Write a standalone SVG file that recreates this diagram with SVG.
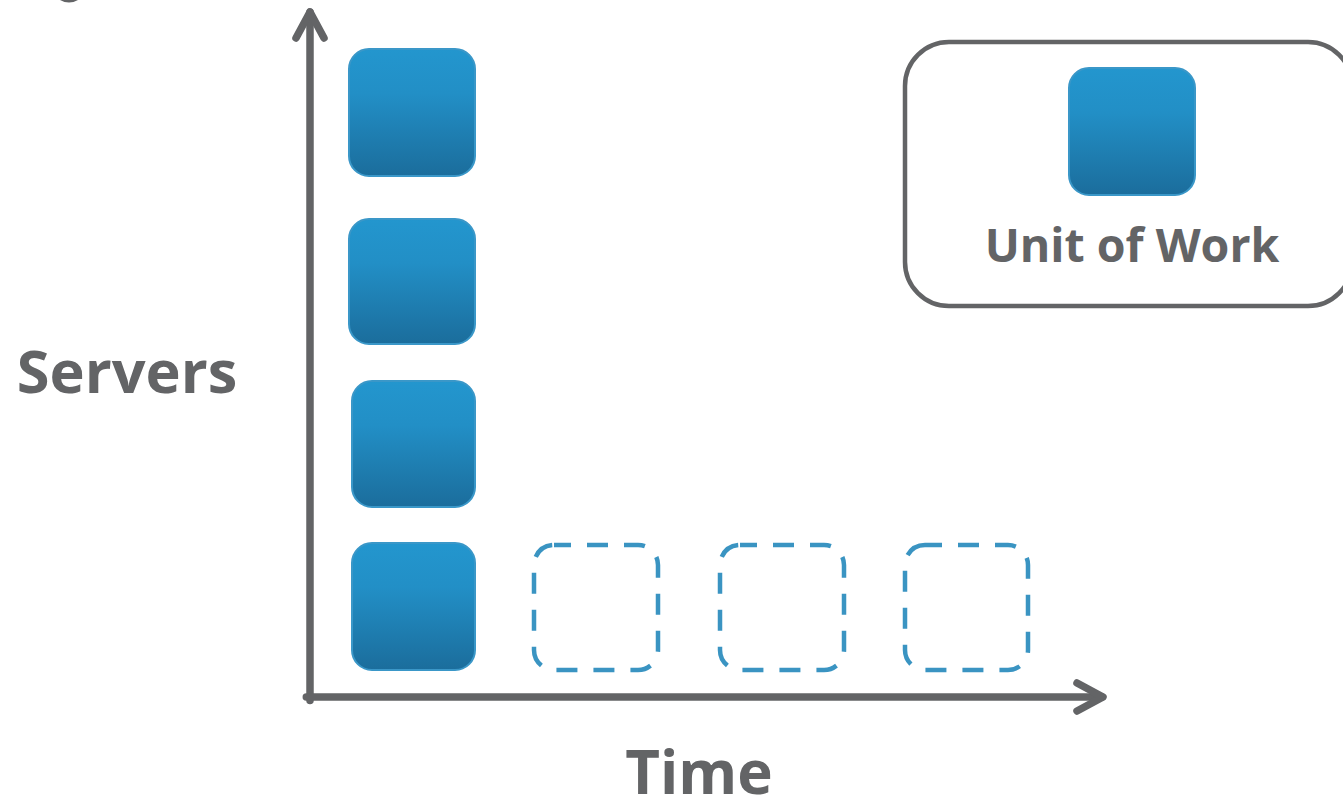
<svg xmlns="http://www.w3.org/2000/svg" width="1343" height="803" viewBox="0 0 1343 803">
  <defs>
    <linearGradient id="unitFill" x1="0" y1="0" x2="0" y2="1">
      <stop offset="0" stop-color="#2396ce"/>
      <stop offset="0.35" stop-color="#228fc6"/>
      <stop offset="1" stop-color="#1b6d9c"/>
    </linearGradient>
    <style>
      .unit { fill: url(#unitFill); stroke: #3a97c8; stroke-width: 2; }
      .slot { fill: none; stroke: #3a94c2; stroke-width: 4.5; stroke-dasharray: 21 16; }
      .axis { fill: none; stroke: #636466; stroke-width: 7.5; stroke-linecap: round; stroke-linejoin: round; }
      .label { font-family: "Open Sans", "Noto Sans", "Liberation Sans", sans-serif; font-weight: bold; fill: #636466; }
    </style>
  </defs>

  <rect width="1343" height="803" fill="#ffffff"/>

  <!-- clipped fragment at the top edge -->
  <path d="M60 0 Q69 5 78 0 Z" fill="#636466"/>

  <!-- axes -->
  <g id="connectors">
    <path class="axis" d="M310 700.5 L310 12" stroke-linecap="butt"/>
    <path class="axis" d="M296 38 L310 12 L324 38"/>
    <path class="axis" d="M306.3 697 L1102 697" stroke-linecap="butt"/>
    <path class="axis" d="M1077 683 L1103 697 L1077 711"/>
  </g>

  <!-- stacked units on the server axis -->
  <g id="unit-1"><rect class="unit" x="349" y="49" width="126" height="127" rx="20"/></g>
  <g id="unit-2"><rect class="unit" x="349" y="219" width="126" height="125" rx="20"/></g>
  <g id="unit-3"><rect class="unit" x="352" y="381" width="123" height="126" rx="20"/></g>
  <g id="unit-4"><rect class="unit" x="352" y="543" width="123" height="127" rx="20"/></g>

  <!-- empty slots along the time axis -->
  <g id="slot-1"><rect class="slot" x="534" y="545" width="124" height="125" rx="20" stroke-dashoffset="4"/></g>
  <g id="slot-2"><rect class="slot" x="720" y="545" width="124" height="125" rx="20" stroke-dashoffset="4"/></g>
  <g id="slot-3"><rect class="slot" x="905" y="545" width="123" height="125" rx="20" stroke-dashoffset="4"/></g>

  <!-- legend -->
  <g id="legend">
    <rect x="905" y="42" width="447" height="264" rx="44" fill="none" stroke="#636466" stroke-width="4.5"/>
    <rect class="unit" x="1069" y="68" width="126" height="127" rx="20"/>
    <text class="label" x="1132" y="262" font-size="46.5" text-anchor="middle">Unit of Work</text>
  </g>

  <g id="axis-labels">
    <text class="label" x="127" y="393" font-size="59.5" text-anchor="middle">Servers</text>
    <text class="label" x="699" y="794" font-size="60" text-anchor="middle">Time</text>
  </g>
</svg>
